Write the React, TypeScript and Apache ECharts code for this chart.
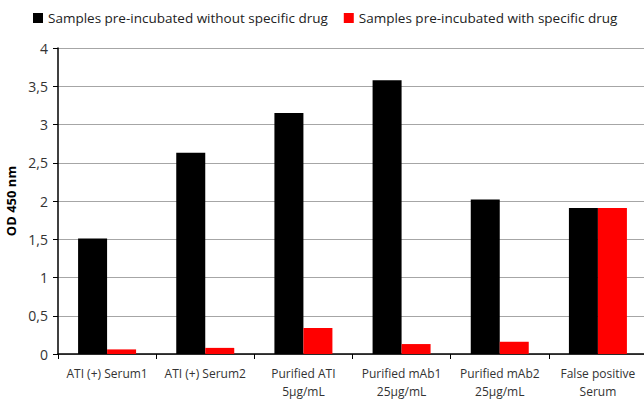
import React, { useEffect, useRef } from "react";
import * as echarts from "echarts";

const categories = [
  "ATI (+) Serum1",
  "ATI (+) Serum2",
  "Purified ATI\n5µg/mL",
  "Purified mAb1\n25µg/mL",
  "Purified mAb2\n25µg/mL",
  "False positive\nSerum",
];
const seriesNames = [
  "Samples pre-incubated without specific drug",
  "Samples pre-incubated with specific drug",
];
const withoutDrug = [1.51, 2.63, 3.15, 3.58, 2.02, 1.91];
const withDrug = [0.06, 0.08, 0.34, 0.13, 0.16, 1.91];

export default function App() {
  const ref = useRef<HTMLDivElement>(null);
  useEffect(() => {
    if (!ref.current) return;
    const chart = echarts.init(ref.current, null, { renderer: "svg" });
    const font = "'Open Sans', 'Noto Sans', sans-serif";
    chart.setOption({
      animation: false,
      textStyle: { fontFamily: font },
      legend: {
        top: 6,
        left: 28,
        itemWidth: 10,
        itemHeight: 10,
        itemGap: 16,
        icon: "rect",
        textStyle: { fontSize: 13.5, color: "#222", fontFamily: font },
        data: seriesNames,
      },
      grid: {
        left: 58,
        right: -3,
        top: 48,
        bottom: 46,
        containLabel: false,
        outerBoundsMode: "none",
      },
      xAxis: {
        type: "category",
        data: categories,
        axisLine: { lineStyle: { color: "#000", width: 1.5 } },
        axisTick: { show: true, length: 5, lineStyle: { color: "#000" } },
        axisLabel: {
          fontSize: 12,
          color: "#333",
          fontFamily: font,
          interval: 0,
          margin: 10,
          lineHeight: 18,
        },
      },
      yAxis: {
        type: "value",
        min: 0,
        max: 4,
        interval: 0.5,
        name: "OD 450 nm",
        nameLocation: "middle",
        nameGap: 40,
        nameTextStyle: { fontSize: 13, fontWeight: "bold", color: "#000", fontFamily: font },
        axisLine: { show: true, lineStyle: { color: "#000", width: 1.5 } },
        axisTick: { show: true, length: 5, lineStyle: { color: "#000" } },
        axisLabel: {
          fontSize: 14,
          color: "#333",
          fontFamily: font,
          margin: 10,
          formatter: (v: number) => String(v).replace(".", ","),
        },
        splitLine: { lineStyle: { color: "#a6a6a6", width: 1 } },
      },
      series: [
        {
          name: seriesNames[0],
          type: "bar",
          data: withoutDrug,
          barWidth: 29,
          barGap: "0%",
          itemStyle: { color: "#000" },
        },
        {
          name: seriesNames[1],
          type: "bar",
          data: withDrug,
          barWidth: 29,
          itemStyle: { color: "#ff0000" },
        },
      ],
    });
    return () => chart.dispose();
  }, []);
  return (
    <div
      ref={ref}
      style={{ position: "fixed", left: 0, top: 0, width: 644, height: 400, background: "#fff" }}
    />
  );
}
